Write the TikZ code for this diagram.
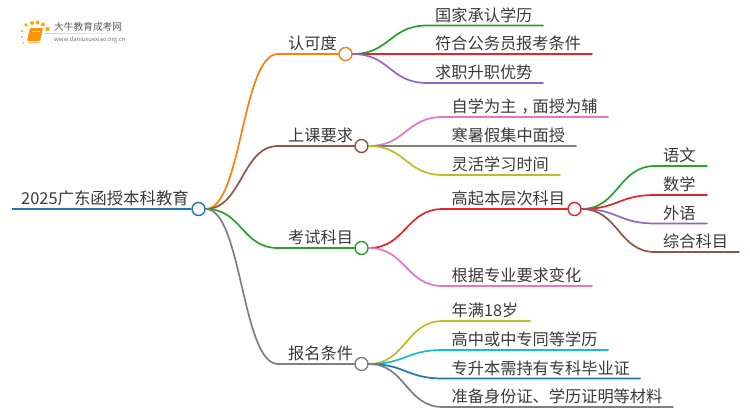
\documentclass[tikz,border=0pt]{standalone}
\usepackage{fontspec}
\setmainfont{Noto Sans CJK SC}
\definecolor{cOrange}{HTML}{FF7F0E}
\definecolor{cBrown}{HTML}{8C564B}
\definecolor{cGreen}{HTML}{2CA02C}
\definecolor{cGray}{HTML}{7F7F7F}
\definecolor{cRed}{HTML}{E3262A}
\definecolor{cPurple}{HTML}{9467BD}
\definecolor{cPink}{HTML}{E377C2}
\definecolor{cYellow}{HTML}{BCBD22}
\definecolor{cCyan}{HTML}{17BECF}
\definecolor{cBlue}{HTML}{1F77B4}
\definecolor{cText}{HTML}{3A3A3A}
\tikzset{
  hub/.style={circle,draw=#1,fill=white,line width=1.4pt,minimum size=13pt,inner sep=0pt},
  conn/.style={line width=1.7pt,line cap=round},
  lbl/.style={anchor=base west,inner sep=0pt,text=cText,font=\fontsize{16.2}{16}\selectfont},
  dot/.style={fill=#1,draw=none,circle,inner sep=0pt}
}
% name, parent, colour, curve end x, line end x, y, text x, text
\newcommand{\leafitem}[8]{%
  \coordinate (#1s) at (#4,#6);
  \coordinate (#1e) at (#5,#6);
  \node[lbl] (#1) at (#7,#6-4.5) {#8};
  \path let \p1=(#2.east), \p2=(#1s) in
    coordinate (#1c1) at ({(\x1+\x2)/2},\y1)
    coordinate (#1c2) at ({(\x1+\x2)/2},\y2);
  \draw[conn,draw=#3] (#2.east) .. controls (#1c1) and (#1c2) .. (#1s) -- (#1e);
}
\usetikzlibrary{calc}
\begin{document}
\begin{tikzpicture}[x=1pt,y=-1pt]
\useasboundingbox (0,0) rectangle (750,410);
\fill[white] (0,0) rectangle (750,410);
% logo
\foreach \i/\a/\b/\r in {1/26/25/1.8,2/32/23/2.0,3/37.5/22.5/2.0,4/43/24.5/2.0,5/47.5/29/2.2,6/22/31/1.2,7/22/37/1.0,8/23.5/43/0.8}
  \node[dot=orange!65!yellow,minimum size=2*\r pt] (logodot\i) at (\a,\b) {};
\fill[orange!85!yellow,rounded corners=1pt] (30,28) -- (43,28) -- (40,41) -- (27,41) -- cycle;
\draw[orange!50!white,line width=.8pt] (28,42) -- (40,42);
\draw[white!70!orange,line width=.5pt] (32,31) -- (40,31);
\shade[left color=black!20,right color=white] (45,33) rectangle (133,33.5);
\node[anchor=base west,inner sep=0pt,text=black!65,font=\fontsize{9.7}{10}\selectfont] (logotext) at (54,30.5) {大牛教育成考网};
\node[anchor=base west,inner sep=0pt,text=black!55,font=\fontsize{5.9}{6}\selectfont] (logourl) at (54,41) {www.daniuxuexiao.org.cn};
% hubs
\node[hub=cBlue] (root) at (198.5,209) {};
\node[hub=cOrange] (a) at (345.5,54) {};
\node[hub=cBrown] (b) at (361.5,146) {};
\node[hub=cGreen] (c) at (361.5,248) {};
\node[hub=cGray] (d) at (361.5,364) {};
\node[hub=cRed] (e) at (574.5,209) {};
% root
\coordinate (rootstart) at (12,209);
\draw[conn,draw=cBlue,line cap=butt] (rootstart) -- (root.west);
\node[lbl,font=\fontsize{16.4}{16}\selectfont] (roottext) at (21,204.5) {2025广东函授本科教育};
% main branches
\leafitem{an}{root}{cOrange}{278}{338.5}{54}{288}{认可度}
\leafitem{bn}{root}{cBrown}{278}{354.5}{146}{288}{上课要求}
\leafitem{cn}{root}{cGreen}{278}{354.5}{248}{288}{考试科目}
\leafitem{dn}{root}{cGray}{278}{354.5}{364}{288}{报名条件}
% children
\leafitem{a1}{a}{cGreen}{427}{543}{25.5}{435}{国家承认学历}
\leafitem{a2}{a}{cRed}{427}{592}{54}{435}{符合公务员报考条件}
\leafitem{a3}{a}{cPurple}{427}{543}{83}{435}{求职升职优势}
\leafitem{b1}{b}{cPink}{443}{608}{117}{451.5}{自学为主\kern.3em，\kern-.3em面授为辅}
\leafitem{b2}{b}{cGray}{443}{576}{146}{451.5}{寒暑假集中面授}
\leafitem{b3}{b}{cYellow}{443}{560}{175}{451.5}{灵活学习时间}
\leafitem{c1}{c}{cRed}{443}{567.5}{209}{451.5}{高起本层次科目}
\leafitem{c2}{c}{cPink}{443}{592}{286}{451.5}{根据专业要求变化}
\leafitem{e1}{e}{cGreen}{655}{707}{166}{663}{语文}
\leafitem{e2}{e}{cRed}{655}{707}{195}{663}{数学}
\leafitem{e3}{e}{cPurple}{655}{707}{223.5}{663}{外语}
\leafitem{e4}{e}{cBrown}{655}{739}{252}{663}{综合科目}
\leafitem{d1}{d}{cYellow}{443}{530}{321}{451.5}{年满18岁}
\leafitem{d2}{d}{cCyan}{443}{608}{350}{451.5}{高中或中专同等学历}
\leafitem{d3}{d}{cBlue}{443}{640}{378.5}{451.5}{专升本需持有专科毕业证}
\leafitem{d4}{d}{cGray}{443}{673}{407}{451.5}{准备身份证、学历证明等材料}
\end{tikzpicture}
\end{document}
